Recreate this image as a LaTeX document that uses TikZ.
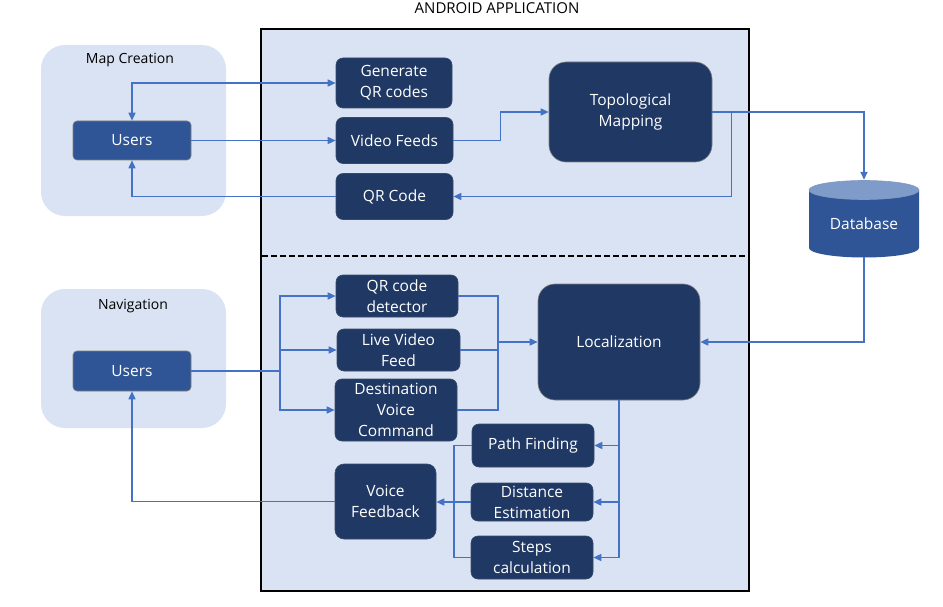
\documentclass[tikz,border=0pt]{standalone}
\usepackage{fontspec}
\setmainfont{Open Sans}
\usetikzlibrary{arrows.meta,calc}
\definecolor{navy}{HTML}{203864}
\definecolor{midblue}{HTML}{2F5597}
\definecolor{paleblue}{HTML}{DAE3F3}
\definecolor{linkblue}{HTML}{4472C4}
\definecolor{dbtop}{HTML}{7F9BC9}
\tikzset{
  >={Triangle[length=8pt,width=7pt]},
  box/.style={fill=navy, draw=navy!75!gray, line width=0.6pt, rounded corners=7pt, text=white, align=center, inner sep=0pt, font=\fontsize{15.5}{21}\selectfont},
  userbox/.style={box, fill=midblue, draw=gray, rounded corners=4pt},
  bigbox/.style={box, rounded corners=17pt, draw=gray},
  link/.style={draw=linkblue, line width=1.5pt},
  group/.style={fill=paleblue, rounded corners=24pt, inner sep=0pt},
  grouplabel/.style={font=\fontsize{14}{16}\selectfont, text=black},
}
\begin{document}
\begin{tikzpicture}[x=1pt,y=-1pt]
\useasboundingbox (0,0) rectangle (943,607);
% title
\node[font=\fontsize{15}{17}\selectfont] (title) at (497,8) {ANDROID APPLICATION};
% application frame
\node[draw=black, fill=paleblue, line width=2pt, minimum width=488pt, minimum height=562pt, inner sep=0pt] (app) at (505,310) {};
\draw[black, line width=1.6pt, dash pattern=on 6pt off 3pt] (262,256) -- (748,256);
% groups
\node[group, minimum width=185pt, minimum height=171pt] (mapgrp) at (133.5,130.5) {};
\node[grouplabel] (maplbl) at (130,60) {Map Creation};
\node[group, minimum width=185pt, minimum height=139pt] (navgrp) at (133.5,358.5) {};
\node[grouplabel] (navlbl) at (133,306) {Navigation};
% map creation nodes
\node[userbox, minimum width=118pt, minimum height=39pt] (u1) at (132,140.5) {Users};
\node[box, minimum width=116pt, minimum height=50pt] (gen) at (394,83) {Generate\\QR codes};
\node[box, minimum width=117pt, minimum height=46pt] (vf) at (394.5,140.5) {Video Feeds};
\node[box, minimum width=117pt, minimum height=46pt] (qr) at (394.5,196.5) {QR Code};
\node[bigbox, minimum width=163pt, minimum height=100pt] (topo) at (630.5,112) {Topological\\Mapping};
% database
\fill[midblue] (809,190) -- (809,248) arc[start angle=180, end angle=360, x radius=55pt, y radius=9.5pt] -- (919,190) -- cycle;
\filldraw[fill=dbtop, draw=midblue!60!white, line width=0.6pt] (864,190) ellipse [x radius=55pt, y radius=9.5pt];
\node[minimum width=110pt, minimum height=77pt, inner sep=0pt] (db) at (864,218.5) {};
\node[text=white, font=\fontsize{15.5}{21}\selectfont] (dblbl) at (864,224) {Database};
% navigation nodes
\node[userbox, minimum width=118pt, minimum height=40pt] (u2) at (132,371) {Users};
\node[box, minimum width=122pt, minimum height=42pt] (qrd) at (397,296) {QR code\\detector};
\node[box, minimum width=123pt, minimum height=42pt] (lvf) at (398.5,350) {Live Video\\Feed};
\node[box, minimum width=122pt, minimum height=62pt] (dvc) at (396,410) {Destination\\Voice\\Command};
\node[bigbox, minimum width=162pt, minimum height=116pt] (loc) at (619,342) {Localization};
\node[box, minimum width=122pt, minimum height=43pt] (pf) at (533,445.5) {Path Finding};
\node[box, minimum width=122pt, minimum height=38pt] (de) at (532,502) {Distance\\Estimation};
\node[box, minimum width=122pt, minimum height=43pt] (sc) at (532,557.5) {Steps\\calculation};
\node[box, minimum width=101pt, minimum height=75pt, rounded corners=9pt] (vfb) at (385.5,501.5) {Voice\\Feedback};
% connectors: map creation
\draw[link, <->] (u1.north) |- (gen.west);
\draw[link, ->] (u1.east) -- (u1.east -| vf.west);
\draw[link, ->] (qr.west) -| (u1.south);
\draw[link, ->] (vf.east) -- ++(47pt,0pt) |- (topo.west);
\draw[link, ->] (topo.east) -| (db.north);
\draw[link, ->] (topo.east) -- ++(19pt,0pt) |- (qr.east);
\draw[link, ->] (db.south) |- (loc.east);
% connectors: navigation
\coordinate (split) at (280,371);
\draw[link] (u2.east) -- (split);
\draw[link, ->] (split) |- (qrd.west);
\draw[link, ->] (split) |- (lvf.west);
\draw[link, ->] (split) |- (dvc.west);
\coordinate (merge) at (498,342);
\draw[link] (qrd.east) -| (merge);
\draw[link] (lvf.east) -| (merge);
\draw[link] (dvc.east) -| (merge);
\draw[link, ->] (merge) -- (loc.west);
\draw[link, ->] (loc.south) |- (pf.east);
\draw[link, ->] (loc.south) |- (de.east);
\draw[link, ->] (loc.south) |- (sc.east);
\coordinate (fb) at (454,502);
\draw[link] (pf.west) -| (fb);
\draw[link] (sc.west) -| (fb);
\draw[link, ->] (de.west) -- (de.west -| vfb.east);
\draw[link, ->] (vfb.west) -| (u2.south);
\end{tikzpicture}
\end{document}
